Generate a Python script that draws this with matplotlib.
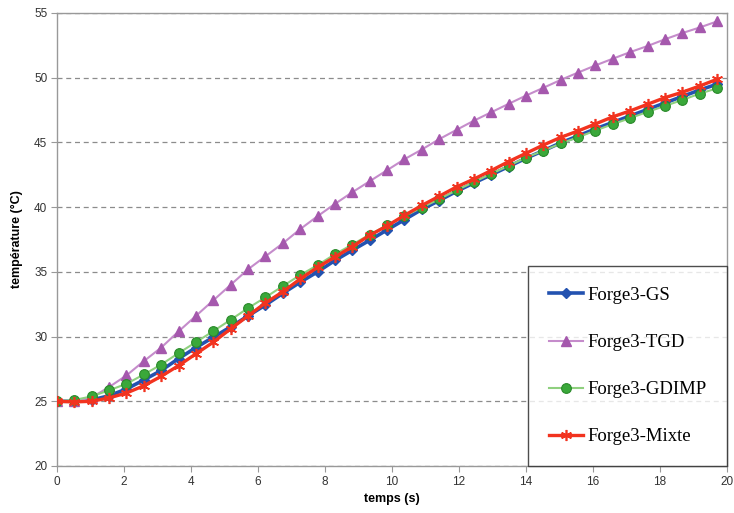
import matplotlib
matplotlib.use("Agg")
import matplotlib.pyplot as plt
import numpy as np

# time step between samples (s)
dt = 0.5185
n_points = 39
time = [round(i * dt, 4) for i in range(n_points)]

forge3_gs = [25.0, 25.0, 25.1, 25.43, 25.95, 26.65, 27.38, 28.3, 29.15, 29.95,
             30.75, 31.6, 32.44, 33.34, 34.2, 35.0, 35.88, 36.67, 37.44, 38.24,
             39.03, 39.82, 40.51, 41.22, 41.87, 42.5, 43.14, 43.78, 44.36, 44.97,
             45.5, 46.05, 46.55, 47.05, 47.55, 48.05, 48.55, 49.05, 49.5]

forge3_tgd = [25.0, 25.0, 25.3, 26.1, 27.0, 28.1, 29.15, 30.4, 31.6, 32.8,
              34.0, 35.2, 36.2, 37.2, 38.3, 39.3, 40.25, 41.15, 42.0, 42.85,
              43.7, 44.45, 45.25, 45.97, 46.68, 47.33, 47.98, 48.62, 49.22, 49.83,
              50.4, 50.95, 51.47, 51.98, 52.45, 52.97, 53.45, 53.88, 54.35]

forge3_gdimp = [25.0, 25.1, 25.38, 25.85, 26.35, 27.07, 27.84, 28.72, 29.57, 30.42,
                31.3, 32.2, 33.03, 33.9, 34.75, 35.52, 36.36, 37.11, 37.88, 38.6,
                39.3, 39.97, 40.62, 41.3, 41.94, 42.58, 43.19, 43.83, 44.36, 44.92,
                45.4, 45.92, 46.41, 46.88, 47.36, 47.82, 48.28, 48.77, 49.18]

forge3_mixte = [25.0, 24.95, 25.0, 25.26, 25.64, 26.2, 26.93, 27.76, 28.67, 29.57,
                30.6, 31.6, 32.6, 33.46, 34.45, 35.35, 36.15, 36.95, 37.82, 38.55,
                39.36, 40.13, 40.84, 41.56, 42.17, 42.83, 43.52, 44.16, 44.8, 45.39,
                45.89, 46.43, 46.98, 47.44, 47.95, 48.46, 48.88, 49.36, 49.88]

labels = ["Forge3-GS", "Forge3-TGD", "Forge3-GDIMP", "Forge3-Mixte"]
x_ticks = [0, 2, 4, 6, 8, 10, 12, 14, 16, 18, 20]
y_ticks = [20, 25, 30, 35, 40, 45, 50, 55]

plt.rcParams['font.family'] = ['Liberation Sans', 'DejaVu Sans']

fig = plt.figure(figsize=(7.34, 5.13), dpi=100)
ax = fig.add_axes([57 / 734, 1 - 466 / 513, 670 / 734, 453 / 513])

ax.plot(time, forge3_gs, color='#2352b0', lw=2.6, marker='D', ms=5.5,
        mfc='#2352b0', mec='#2352b0', label=labels[0], zorder=3)
ax.plot(time, forge3_tgd, color='#c58ccb', lw=1.5, marker='^', ms=6.5,
        mfc='#a558ad', mec='#a558ad', label=labels[1], zorder=3)
ax.plot(time, forge3_gdimp, color='#8fd07f', lw=1.5, marker='o', ms=7,
        mfc='#3aa83a', mec='#2a8a2a', mew=0.8, label=labels[2], zorder=4)
ax.plot(time, forge3_mixte, color='#f2331f', lw=2.4, marker=(6, 2, 0), ms=8,
        mfc='#f2331f', mec='#f2331f', mew=1.2, label=labels[3], zorder=5)

ax.set_xlim(0, 20)
ax.set_ylim(20, 55)
ax.set_xticks(x_ticks)
ax.set_yticks(y_ticks)
ax.yaxis.grid(True, linestyle=(0, (4, 3)), color='#8c8c8c', lw=0.9)
ax.set_axisbelow(True)
for s in ax.spines.values():
    s.set_color('#999999')
    s.set_linewidth(1.0)
ax.tick_params(axis='both', direction='out', length=4, width=0.8,
               color='#999999', labelsize=8.5, labelcolor='#333333', pad=3)

ax.set_xlabel("temps (s)", fontsize=9, fontweight='bold', labelpad=4)
ax.set_ylabel("température (°C)", fontsize=9, fontweight='bold', labelpad=8)

leg = ax.legend(loc='lower right', bbox_to_anchor=(1.0, 0.0), borderaxespad=0,
                frameon=True, fancybox=False, edgecolor='#222222',
                prop={'family': 'Liberation Serif', 'size': 13.5},
                handlelength=1.85, handletextpad=0.2, labelspacing=1.6,
                borderpad=1.1)
leg.get_frame().set_linewidth(1.0)

fig.savefig("out.png", dpi=100)
